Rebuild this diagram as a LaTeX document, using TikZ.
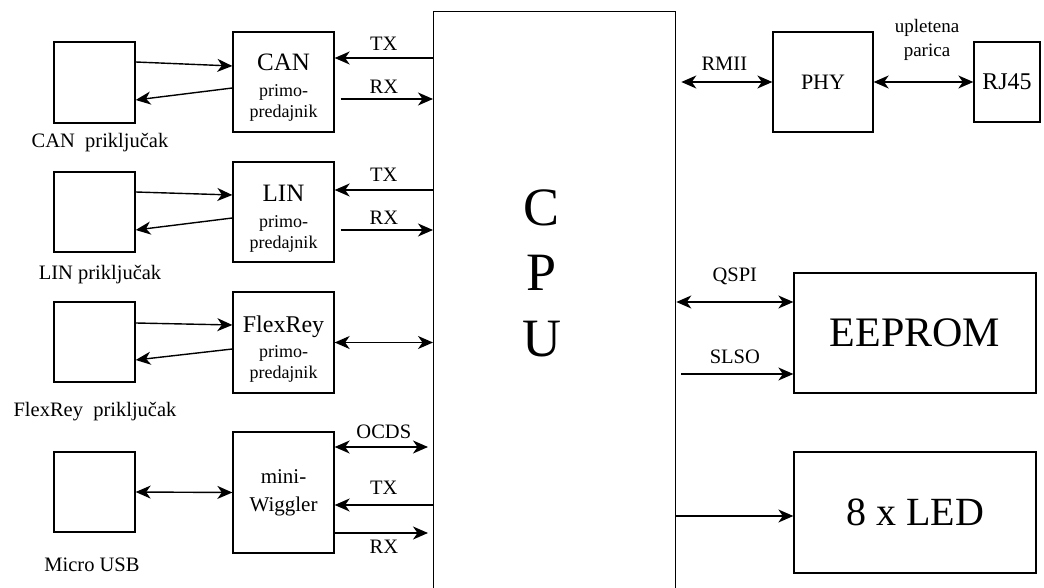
\documentclass[tikz,border=0pt]{standalone}
\usepackage{fontspec}
\setmainfont{Liberation Serif}
\usetikzlibrary{arrows.meta}
\begin{document}
\begin{tikzpicture}[x=1pt,y=-1pt,
  box/.style={draw, line width=1.3pt, inner sep=0pt, align=center},
  trbox/.style={box, minimum width=101pt, font=\fontsize{18}{21}\selectfont},
  conn/.style={line width=1.4pt},
  ar/.style={conn, -{Stealth[length=15pt,width=13pt,inset=4.5pt]}},
  bar/.style={conn, {Stealth[length=15pt,width=13pt,inset=4.5pt]}-{Stealth[length=15pt,width=13pt,inset=4.5pt]}},
  lbl/.style={inner sep=0pt, font=\fontsize{20.5}{22}\selectfont}
  ]
\useasboundingbox (0,0) rectangle (1044,588);

% CPU
\node[box, minimum width=242pt, minimum height=600pt, anchor=north west] (cpu) at (433,11) {};
\node[inner sep=0pt, align=center, font=\fontsize{54}{65.5}\selectfont] (cputxt) at (542,273) {C\\P\\U};

% CAN
\node[box, minimum width=81pt, minimum height=81pt] (cancon) at (94.5,82.5) {};
\node[trbox, minimum height=100pt] (cantr) at (283.5,82)
  {\fontsize{25}{28}\selectfont\rule{0pt}{28pt}CAN\\[5.5pt]primo-\\predajnik};
\node[lbl] (canlbl) at (100,143) {CAN\ \ priključak};
\draw[ar] ([yshift=20.5pt]cancon.east) -- ([yshift=16pt]cantr.west);
\draw[ar] ([yshift=-6pt]cantr.west) -- ([yshift=-17.5pt]cancon.east);
\coordinate (cantx) at ([yshift=24pt]cantr.east);
\coordinate (canrx) at ([yshift=-17pt]cantr.east);
\draw[ar] (cantx -| cpu.west) -- node[lbl, above=7pt] {TX} (cantx);
\draw[ar, shorten <=6pt] (canrx) -- node[lbl, above=5pt] {RX} (canrx -| cpu.west);

% LIN
\node[box, minimum width=81pt, minimum height=80pt] (lincon) at (94.5,212) {};
\node[trbox, minimum height=100pt] (lintr) at (283.5,212)
  {\fontsize{25}{28}\selectfont\rule{0pt}{30pt}LIN\\[5.5pt]primo-\\predajnik};
\node[lbl] (linlbl) at (100,275) {LIN\ priključak};
\draw[ar] ([yshift=20pt]lincon.east) -- ([yshift=17pt]lintr.west);
\draw[ar] ([yshift=-6pt]lintr.west) -- ([yshift=-18pt]lincon.east);
\coordinate (lintx) at ([yshift=22pt]lintr.east);
\coordinate (linrx) at ([yshift=-18pt]lintr.east);
\draw[ar] (lintx -| cpu.west) -- node[lbl, above=8pt] {TX} (lintx);
\draw[ar, shorten <=6pt] (linrx) -- node[lbl, above=5pt] {RX} (linrx -| cpu.west);

% FlexRey
\node[box, minimum width=81pt, minimum height=80pt] (flxcon) at (94.5,342) {};
\node[trbox, minimum height=101pt] (flxtr) at (283.5,342.5)
  {\fontsize{24}{27}\selectfont\rule{0pt}{30pt}FlexRey\\[4pt]primo-\\predajnik};
\node[lbl] (flxlbl) at (95,412) {FlexRey\ \ priključak};
\draw[ar] ([yshift=19pt]flxcon.east) -- ([yshift=17.5pt]flxtr.west);
\draw[ar] ([yshift=-6.5pt]flxtr.west) -- ([yshift=-18pt]flxcon.east);
\draw[bar] (flxtr.east) -- (flxtr.east -| cpu.west);

% Micro USB / mini-Wiggler
\node[box, minimum width=81pt, minimum height=80pt] (usb) at (94.5,492) {};
\node[box, minimum width=101pt, minimum height=121pt, font=\fontsize{21}{28}\selectfont] (wig) at (283.5,492.5)
  {mini-\\Wiggler};
\node[lbl] (usblbl) at (92,565) {Micro USB};
\draw[bar] (usb.east) -- (wig.west);
\coordinate (ocds) at ([yshift=45.5pt]wig.east);
\coordinate (wigtx) at ([yshift=-12.5pt]wig.east);
\coordinate (wigrx) at ([yshift=-40.5pt]wig.east);
\draw[bar, shorten >=5pt] (ocds) -- node[lbl, above=8pt] {OCDS} (ocds -| cpu.west);
\draw[ar] (wigtx -| cpu.west) -- node[lbl, above=10pt] {TX} (wigtx);
\draw[ar, shorten >=5pt] (wigrx) -- node[lbl, below=6pt] {RX} (wigrx -| cpu.west);

% PHY / RJ45
\node[box, minimum width=100pt, minimum height=100pt, font=\fontsize{22}{26}\selectfont] (phy) at (823,82) {PHY};
\node[box, minimum width=66pt, minimum height=80pt, font=\fontsize{24}{28}\selectfont] (rj) at (1007,82) {RJ45};
\draw[bar, shorten <=5pt] (phy.west -| cpu.east) -- node[lbl, above=11pt] {RMII} (phy.west);
\draw[bar] (phy.east) -- (rj.west);
\node[inner sep=0pt, align=center, font=\fontsize{19}{24}\selectfont] (twisted) at (927,40) {upletena\\parica};

% EEPROM
\node[box, minimum width=242pt, minimum height=120pt, font=\fontsize{42}{48}\selectfont] (eeprom) at (915,333) {EEPROM};
\coordinate (qspi) at ([yshift=31pt]eeprom.west);
\coordinate (slso) at ([yshift=-41pt]eeprom.west);
\draw[bar] (qspi -| cpu.east) -- node[lbl, above=16pt] {QSPI} (qspi);
\draw[ar, shorten <=5pt] (slso -| cpu.east) -- node[lbl, above=10pt] {SLSO} (slso);

% LED
\node[box, minimum width=242pt, minimum height=121pt, font=\fontsize{40}{46}\selectfont] (led) at (915,512.5) {8 x LED};
\coordinate (ledin) at ([yshift=-3.5pt]led.west);
\draw[ar] (ledin -| cpu.east) -- (ledin);
\end{tikzpicture}
\end{document}
